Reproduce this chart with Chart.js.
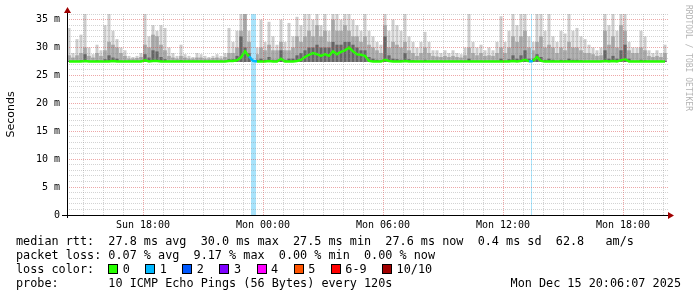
<!DOCTYPE html>
<html>
<head>
<meta charset="utf-8">
<script src="https://cdn.jsdelivr.net/npm/chart.js@4.4.1/dist/chart.umd.min.js"></script>
<style>
  body { margin: 0; background: #fff; }
  #wrap { position: relative; width: 697px; height: 297px; overflow: hidden; }
  #smoke { position: absolute; left: 0; top: 0; }
  .leg { position: absolute; left: 16px; font: 11.8px "DejaVu Sans Mono", monospace; color: #000; white-space: pre; line-height: 14px; }
  .sw { display: inline-block; width: 8px; height: 8px; border: 1px solid #000; vertical-align: -1px; margin: 0 4.5px 0 15.5px; }
  .sw.first { margin-left: 14px; }
  .wm { position: absolute; left: 684px; top: 5px; writing-mode: vertical-rl; font: 8px "DejaVu Sans Mono", monospace; color: #b4b4b4; white-space: pre; }
  #stamp { left: auto; right: 16px; }
</style>
</head>
<body>
<div id="wrap">
  <canvas id="smoke" width="697" height="297"></canvas>
  <div class="wm">RRDTOOL / TOBI OETIKER</div>
  <div class="leg" style="top:234px">median rtt:  27.8 ms avg  30.0 ms max  27.5 ms min  27.6 ms now  0.4 ms sd  62.8   am/s</div>
  <div class="leg" style="top:248px">packet loss: 0.07 % avg  9.17 % max  0.00 % min  0.00 % now</div>
  <div class="leg" id="losslegend" style="top:262px">loss color:</div>
  <div class="leg" style="top:276px">probe:       10 ICMP Echo Pings (56 Bytes) every 120s</div>
  <div class="leg" id="stamp" style="top:276px">Mon Dec 15 20:06:07 2025</div>
</div>
<script>
// hours counted from Sun 00:00
const startHour = 14.2;
const endHour = 44.25;
const xTickHours = [18, 24, 30, 36, 42];
const xTickLabels = ['Sun 18:00', 'Mon 00:00', 'Mon 06:00', 'Mon 12:00', 'Mon 18:00'];
const yTickValues = [0, 5, 10, 15, 20, 25, 30, 35];
const yTickLabels = ['0', '5 m', '10 m', '15 m', '20 m', '25 m', '30 m', '35 m'];

// 12 minute bins, first bin centred at 14:18
const binStart = 14.3;
const binHours = 0.2;

// fastest ping, bottom of the smoke (ms)
const rttFloor = 27.4;

// outer smoke (slowest pings), ms
const smokeTop = [
  33.5, 29.0, 31.5, 32.3, 36, 30.0, 28.8, 30.5, 29.5, 34.0,
  36, 33.0, 31.5, 30.0, 29.5, 28.5, 28.3, 28.5, 29.0, 36,
  32.0, 34.0, 33.0, 34.0, 33.5, 30.0, 29.0, 28.5, 30.5, 28.8,
  28.5, 28.3, 29.0, 28.8, 28.5, 28.3, 28.5, 28.8, 28.5, 29.0,
  33.5, 31.0, 33.0, 36, 36, 33.0, 32.0, 30.0, 35.0, 31.0,
  34.6, 32.0, 30.5, 35.0, 31.0, 34.4, 32.0, 35.5, 34.0, 36,
  36, 35.0, 36, 34.0, 36, 33.0, 36, 36, 35.0, 36,
  36, 35.0, 34.0, 33.0, 36, 33.0, 32.0, 31.0, 30.5, 36,
  33.0, 35.0, 34.0, 33.0, 36, 32.0, 31.0, 30.0, 31.0, 32.8,
  31.0, 29.5, 29.5, 29.0, 29.5, 29.0, 29.5, 29.0, 28.8, 30.0,
  36, 31.0, 30.0, 30.5, 29.5, 30.0, 29.5, 31.0, 35.6, 31.0,
  33.0, 36, 34.0, 36, 36, 32.0, 31.0, 36, 36, 33.0,
  36, 32.0, 31.0, 33.0, 32.5, 36, 33.0, 33.5, 32.0, 31.5,
  30.5, 30.0, 29.5, 30.0, 36, 34.0, 36, 33.0, 36, 36,
  31.0, 30.0, 30.0, 33.0, 32.0, 29.5, 29.0, 29.5, 29.0, 30.5
];

// middle smoke, ms
const smokeMid = [
  28.6, 28.2, 28.6, 29.0, 30.0, 28.5, 28.2, 29.0, 28.5, 29.5,
  31.0, 30.5, 30.0, 29.0, 28.5, 28.0, 28.0, 28.1, 28.3, 30.5,
  30.0, 32.3, 32.0, 30.5, 29.5, 28.5, 28.2, 28.0, 28.5, 28.2,
  28.0, 28.0, 28.2, 28.2, 28.0, 28.0, 28.1, 28.2, 28.0, 28.3,
  29.0, 29.0, 30.0, 33.0, 36, 31.0, 29.5, 28.8, 30.0, 29.5,
  30.5, 29.5, 29.5, 31.0, 29.5, 29.5, 30.0, 32.0, 31.0, 32.0,
  33.0, 32.0, 34.0, 32.0, 33.0, 31.0, 35.0, 33.0, 33.0, 34.0,
  33.0, 32.0, 32.0, 31.0, 32.0, 30.5, 30.0, 29.5, 29.0, 34.0,
  30.0, 31.0, 30.5, 30.0, 31.0, 29.5, 29.0, 28.5, 29.0, 30.0,
  29.0, 28.5, 28.4, 28.3, 28.5, 28.3, 28.5, 28.3, 28.2, 28.6,
  30.0, 29.0, 28.6, 29.0, 28.5, 28.6, 28.5, 29.0, 30.0, 29.0,
  30.0, 32.0, 31.0, 32.0, 33.0, 30.0, 29.5, 31.0, 32.0, 30.0,
  30.5, 30.0, 29.0, 30.0, 29.5, 31.0, 30.0, 30.0, 29.5, 29.0,
  29.0, 28.8, 28.5, 28.6, 33.0, 30.5, 32.0, 30.0, 34.0, 33.0,
  29.5, 29.0, 29.0, 30.0, 29.5, 28.5, 28.3, 28.5, 28.3, 29.0
];

// inner smoke (pings closest to the median), ms
const smokeCore = [
  27.6, 27.6, 27.6, 27.7, 28.8, 27.6, 27.6, 27.7, 27.6, 27.9,
  28.6, 28.2, 28.0, 27.6, 27.6, 27.6, 27.6, 27.6, 27.6, 28.8,
  28.2, 29.5, 29.3, 28.3, 27.9, 27.6, 27.6, 27.6, 27.7, 27.6,
  27.6, 27.6, 27.6, 27.6, 27.6, 27.6, 27.6, 27.6, 27.6, 27.6,
  27.9, 27.9, 28.5, 32.0, 30.0, 29.0, 28.2, 27.8, 28.0, 27.8,
  28.3, 27.8, 27.8, 29.5, 27.8, 28.0, 28.0, 28.6, 29.0, 29.5,
  30.0, 30.0, 30.5, 30.0, 30.0, 30.0, 31.0, 30.5, 30.5, 31.0,
  31.0, 30.5, 30.0, 29.5, 29.5, 28.3, 28.0, 27.8, 27.7, 32.0,
  28.6, 28.0, 27.9, 27.8, 29.0, 27.9, 27.7, 27.6, 27.6, 27.8,
  27.6, 27.6, 27.6, 27.6, 27.6, 27.6, 27.6, 27.6, 27.6, 27.6,
  28.0, 27.6, 27.6, 27.6, 27.6, 27.6, 27.6, 27.6, 28.0, 27.6,
  27.9, 28.6, 28.0, 28.6, 29.5, 28.0, 28.0, 28.8, 28.3, 27.8,
  28.0, 27.8, 27.6, 27.8, 27.7, 28.0, 27.8, 27.8, 27.7, 27.6,
  27.6, 27.6, 27.6, 27.6, 29.5, 28.0, 28.5, 28.0, 29.5, 30.5,
  28.0, 27.6, 27.6, 27.8, 27.7, 27.6, 27.6, 27.6, 27.6, 27.6
];

// median rtt, ms
const medianRtt = [
  27.5, 27.5, 27.5, 27.5, 27.6, 27.5, 27.5, 27.5, 27.5, 27.5,
  27.5, 27.6, 27.5, 27.5, 27.5, 27.5, 27.5, 27.5, 27.5, 27.7,
  27.5, 27.6, 27.6, 27.5, 27.5, 27.5, 27.5, 27.5, 27.5, 27.5,
  27.5, 27.5, 27.5, 27.5, 27.5, 27.5, 27.5, 27.5, 27.5, 27.5,
  27.6, 27.6, 27.7, 28.2, 29.3, 28.4, 27.6, 27.5, 27.5, 27.5,
  27.6, 27.5, 27.5, 28.0, 27.5, 27.5, 27.5, 27.6, 27.8, 28.3,
  28.7, 29.0, 28.8, 28.5, 28.8, 28.5, 29.3, 28.8, 29.2, 29.5,
  30.0, 29.3, 28.8, 28.7, 28.5, 27.6, 27.5, 27.5, 27.5, 27.8,
  27.6, 27.5, 27.5, 27.5, 27.6, 27.5, 27.5, 27.5, 27.5, 27.5,
  27.5, 27.5, 27.5, 27.5, 27.5, 27.5, 27.5, 27.5, 27.5, 27.5,
  27.5, 27.5, 27.5, 27.5, 27.5, 27.5, 27.5, 27.5, 27.5, 27.5,
  27.5, 27.6, 27.5, 27.6, 27.8, 27.5, 27.6, 28.3, 27.6, 27.5,
  27.5, 27.5, 27.5, 27.5, 27.5, 27.5, 27.5, 27.5, 27.5, 27.5,
  27.5, 27.5, 27.5, 27.5, 27.6, 27.5, 27.6, 27.5, 27.7, 27.9,
  27.5, 27.5, 27.5, 27.5, 27.5, 27.5, 27.5, 27.5, 27.5, 27.5
];

// periods with packet loss: from hour, to hour, pings lost of 10
const lossFrom = [23.4, 37.4];
const lossTo = [23.65, 37.45];
const lossPings = [1, 1];

const lossLabels = ['0', '1', '2', '3', '4', '5', '6-9', '10/10'];
const lossColors = ['#26ff00', '#00b8ff', '#0059ff', '#7e00ff', '#ff00ff', '#ff5500', '#ff0000', '#a10000'];

const minorGrid = 'rgba(140,140,140,0.38)';
const majorGrid = 'rgba(215,60,60,0.45)';

const times = medianRtt.map((v, i) => binStart + i * binHours);

function lossAt(t) {
    for (let k = 0; k < lossFrom.length; k++) {
        if (t >= lossFrom[k] && t <= lossTo[k]) return lossPings[k];
    }
    return 0;
}

// loss colour legend
const legendEl = document.getElementById('losslegend');
lossLabels.forEach((label, i) => {
    const sw = document.createElement('span');
    sw.className = i === 0 ? 'sw first' : 'sw';
    sw.style.background = lossColors[i];
    legendEl.appendChild(sw);
    legendEl.appendChild(document.createTextNode(label));
});

const rrdDecor = {
    id: 'rrdDecor',
    afterDatasetDraw(chart, args) {
        if (chart.data.datasets[args.index].label !== 'core') return;
        const ctx = chart.ctx;
        const area = chart.chartArea;
        const x = chart.scales.x;
        ctx.save();
        ctx.fillStyle = '#a8e3fb';
        for (let k = 0; k < lossFrom.length; k++) {
            const x0 = Math.round(x.getPixelForValue(lossFrom[k]));
            const x1 = Math.max(x0 + 1, Math.round(x.getPixelForValue(lossTo[k])));
            ctx.fillRect(x0, area.top, x1 - x0, area.bottom - area.top);
        }
        ctx.restore();
    },
    afterDraw(chart) {
        const ctx = chart.ctx;
        const a = chart.chartArea;
        ctx.save();
        ctx.strokeStyle = '#000';
        ctx.lineWidth = 1;
        ctx.beginPath();
        ctx.moveTo(a.left - 5, a.bottom + 0.5);
        ctx.lineTo(a.right + 2, a.bottom + 0.5);
        ctx.moveTo(a.left + 0.5, a.bottom + 3);
        ctx.lineTo(a.left + 0.5, a.top - 4);
        ctx.stroke();
        ctx.fillStyle = '#a00000';
        ctx.beginPath();
        ctx.moveTo(a.left + 0.5, a.top - 7);
        ctx.lineTo(a.left - 3, a.top - 1);
        ctx.lineTo(a.left + 4, a.top - 1);
        ctx.closePath();
        ctx.fill();
        ctx.beginPath();
        ctx.moveTo(a.right + 6, a.bottom + 0.5);
        ctx.lineTo(a.right, a.bottom - 3);
        ctx.lineTo(a.right, a.bottom + 4);
        ctx.closePath();
        ctx.fill();
        ctx.restore();
    }
};

function smokeSet(label, tops, color, order, width) {
    return {
        label: label,
        data: times.map((t, i) => ({ x: t, y: [rttFloor, tops[i]] })),
        backgroundColor: color,
        borderWidth: 0,
        barPercentage: width,
        categoryPercentage: 1,
        grouped: false,
        order: order
    };
}

new Chart(document.getElementById('smoke'), {
    type: 'bar',
    data: {
        datasets: [
            {
                type: 'line',
                label: 'median',
                data: times.map((t, i) => ({ x: t, y: medianRtt[i] })),
                borderColor: lossColors[0],
                borderWidth: 2.5,
                pointRadius: 0,
                tension: 0,
                order: 0,
                segment: {
                    borderColor: c => lossColors[lossAt((c.p0.parsed.x + c.p1.parsed.x) / 2)]
                }
            },
            smokeSet('core', smokeCore, '#666666', 1, 0.8),
            smokeSet('mid', smokeMid, '#a6a6a6', 2, 0.9),
            smokeSet('outer', smokeTop, '#cdcdcd', 3, 0.75)
        ]
    },
    options: {
        responsive: false,
        animation: false,
        devicePixelRatio: 1,
        layout: { padding: { left: 0, top: 14, right: 29, bottom: 0 } },
        plugins: { legend: { display: false }, tooltip: { enabled: false } },
        scales: {
            x: {
                type: 'linear',
                min: startHour,
                max: endHour,
                offset: false,
                afterFit: s => { s.height = 82; },
                ticks: {
                    stepSize: 1,
                    autoSkip: false,
                    maxRotation: 0,
                    includeBounds: false,
                    padding: 4,
                    color: '#000',
                    font: { family: 'DejaVu Sans Mono', size: 10 },
                    callback: v => {
                        const k = xTickHours.indexOf(v);
                        return k >= 0 ? xTickLabels[k] : '';
                    }
                },
                grid: {
                    offset: false,
                    drawTicks: false,
                    z: 1,
                    color: c => (c.tick && c.tick.value % 6 === 0) ? majorGrid : minorGrid
                },
                border: { display: false, dash: [1, 1] }
            },
            y: {
                min: 0,
                max: 36,
                afterFit: s => { s.width = 67; },
                ticks: {
                    stepSize: 1,
                    autoSkip: false,
                    padding: 7,
                    color: '#000',
                    font: { family: 'DejaVu Sans Mono', size: 10 },
                    callback: v => {
                        const k = yTickValues.indexOf(v);
                        return k >= 0 ? yTickLabels[k] : '';
                    }
                },
                grid: {
                    drawTicks: false,
                    z: 1,
                    color: c => (c.tick && c.tick.value % 5 === 0) ? majorGrid : minorGrid
                },
                border: { display: false, dash: [1, 1] },
                title: {
                    display: true,
                    text: 'Seconds',
                    color: '#000',
                    padding: { top: 5, bottom: 0 },
                    font: { family: 'DejaVu Sans', size: 11 }
                }
            }
        }
    },
    plugins: [rrdDecor]
});
</script>
</body>
</html>
